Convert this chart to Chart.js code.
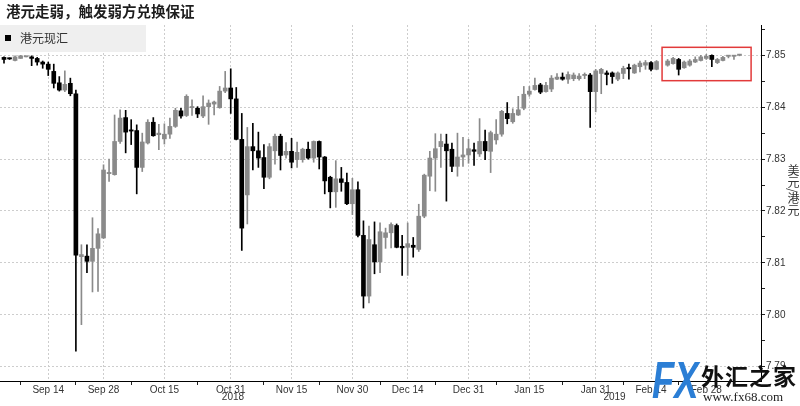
<!DOCTYPE html>
<html>
<head>
<meta charset="utf-8">
<script src="https://cdn.jsdelivr.net/npm/chart.js@4.4.0/dist/chart.umd.min.js"></script>
<style>
  html, body { margin: 0; padding: 0; background: #fff; }
  #wrap { position: relative; width: 800px; height: 406px; overflow: hidden; }
  #chart { position: absolute; left: 0; top: 0; }
  #title { position: absolute; left: 6px; top: 0; line-height: 20px; font: bold 14.5px "Noto Sans CJK SC", sans-serif; color: #1e1e1e; }
  #legend { position: absolute; left: 0; top: 25px; width: 146px; height: 27px; background: #efefef; font: 12px "Noto Sans CJK SC", sans-serif; color: #333; line-height: 27px; }
  #legend .sq { position: absolute; left: 5px; top: 10px; width: 6px; height: 6px; background: #000; }
  #legend .txt { position: absolute; left: 20px; top: -1px; }
  #ytitle { position: absolute; left: 785px; top: 164px; writing-mode: vertical-rl; font: 12px "Noto Sans CJK SC", sans-serif; color: #333; }
  #wm-fx { position: absolute; left: 652px; top: 352px; font: italic 900 52px "Liberation Sans", sans-serif; color: #2b7ed5; transform: scaleX(0.7); transform-origin: left top; line-height: 56px; }
  #wm-cn { position: absolute; left: 701px; top: 359px; font: bold 23px "Noto Sans CJK SC", sans-serif; color: #111; line-height: 32px; letter-spacing: 1px; }
  #wm-url { position: absolute; left: 703px; top: 389px; font: 13px "Liberation Serif", serif; color: #222; line-height: 16px; }
</style>
</head>
<body>
<div id="wrap">
  <canvas id="chart" width="800" height="406"></canvas>
  <div id="title">港元走弱，触发弱方兑换保证</div>
  <div id="legend"><span class="sq"></span><span class="txt">港元现汇</span></div>
  <div id="ytitle">美元/港元</div>
  <div id="wm-fx">FX</div>
  <div id="wm-cn">外汇之家</div>
  <div id="wm-url">www.fx68.com</div>
</div>
<script>
// daily USD/HKD candles, one slot per weekday from 2018-09-04 (slot 119 has no data)
const openVals = [7.8496,7.8494,7.8490,7.8494,7.8497,7.8497,7.8494,7.8487,7.8483,7.8469,
  7.8447,7.8433,7.8446,7.8426,7.8112,7.8113,7.8103,7.8128,7.8148,7.8272,
  7.8270,7.8334,7.8380,7.8355,7.8355,7.8284,7.8331,7.8371,7.8347,7.8339,
  7.8348,7.8363,7.8393,7.8384,7.8399,7.8398,7.8383,7.8401,7.8406,7.8399,
  7.8431,7.8437,7.8416,7.8338,7.8231,7.8324,7.8316,7.8303,7.8265,7.8316,
  7.8344,7.8308,7.8315,7.8299,7.8299,7.8319,7.8302,7.8334,7.8304,7.8265,
  7.8237,7.8262,7.8255,7.8214,7.8241,7.8153,7.8036,7.8135,7.8102,7.8149,
  7.8158,7.8172,7.8132,7.8130,7.8134,7.8126,7.8190,7.8267,7.8302,7.8324,
  7.8329,7.8319,7.8286,7.8304,7.8308,7.8318,7.8310,7.8334,7.8315,7.8337,
  7.8348,7.8388,7.8372,7.8385,7.8398,7.8425,7.8434,7.8443,7.8430,7.8435,
  7.8454,7.8458,7.8454,7.8455,7.8455,7.8461,7.8462,7.8430,7.8465,7.8466,
  7.8466,7.8454,7.8465,7.8476,7.8466,7.8478,7.8481,7.8486,7.8473,null,
  7.8481,7.8484,7.8492,7.8476,7.8481,7.8487,7.8490,7.8494,7.8500,7.8486,
  7.8490,7.8498,7.8498,7.8500];
const closeVals = [7.8492,7.8493,7.8497,7.8499,7.8498,7.8494,7.8487,7.8483,7.8473,7.8446,
  7.8433,7.8444,7.8426,7.8115,7.8116,7.8103,7.8128,7.8156,7.8279,7.8274,
  7.8334,7.8379,7.8352,7.8354,7.8284,7.8333,7.8371,7.8345,7.8350,7.8348,
  7.8363,7.8394,7.8383,7.8421,7.8400,7.8387,7.8401,7.8408,7.8410,7.8431,
  7.8437,7.8416,7.8338,7.8167,7.8324,7.8316,7.8302,7.8265,7.8324,7.8344,
  7.8307,7.8315,7.8294,7.8313,7.8319,7.8302,7.8334,7.8304,7.8258,7.8237,
  7.8262,7.8255,7.8214,7.8241,7.8153,7.8036,7.8145,7.8102,7.8160,7.8158,
  7.8174,7.8130,7.8129,7.8137,7.8130,7.8190,7.8269,7.8302,7.8320,7.8334,
  7.8316,7.8286,7.8304,7.8308,7.8320,7.8315,7.8334,7.8316,7.8351,7.8348,
  7.8392,7.8378,7.8388,7.8395,7.8425,7.8431,7.8442,7.8429,7.8442,7.8456,
  7.8458,7.8454,7.8463,7.8462,7.8460,7.8463,7.8430,7.8470,7.8473,7.8463,
  7.8459,7.8466,7.8475,7.8474,7.8481,7.8485,7.8486,7.8473,7.8488,null,
  7.8489,7.8494,7.8473,7.8487,7.8489,7.8492,7.8497,7.8498,7.8492,7.8492,
  7.8496,7.8499,7.8499,7.8501];
const highVals = [7.8497,7.8495,7.8499,7.8500,7.8498,7.8499,7.8496,7.8489,7.8487,7.8483,
  7.8459,7.8470,7.8456,7.8433,7.8135,7.8135,7.8187,7.8166,7.8289,7.8300,
  7.8385,7.8395,7.8394,7.8376,7.8366,7.8350,7.8376,7.8380,7.8367,7.8368,
  7.8379,7.8398,7.8398,7.8424,7.8414,7.8401,7.8422,7.8414,7.8412,7.8440,
  7.8469,7.8474,7.8438,7.8388,7.8361,7.8369,7.8352,7.8328,7.8330,7.8348,
  7.8348,7.8332,7.8340,7.8333,7.8321,7.8333,7.8335,7.8335,7.8305,7.8267,
  7.8297,7.8284,7.8273,7.8263,7.8256,7.8181,7.8171,7.8179,7.8177,7.8167,
  7.8177,7.8175,7.8153,7.8177,7.8149,7.8213,7.8271,7.8315,7.8349,7.8348,
  7.8348,7.8331,7.8350,7.8342,7.8338,7.8331,7.8378,7.8356,7.8354,7.8376,
  7.8394,7.8409,7.8397,7.8421,7.8440,7.8440,7.8456,7.8446,7.8448,7.8461,
  7.8465,7.8466,7.8468,7.8466,7.8465,7.8466,7.8465,7.8473,7.8475,7.8470,
  7.8468,7.8468,7.8479,7.8483,7.8483,7.8489,7.8490,7.8488,7.8490,null,
  7.8492,7.8496,7.8494,7.8489,7.8492,7.8497,7.8500,7.8502,7.8501,7.8494,
  7.8498,7.8499,7.8499,7.8502];
const lowVals = [7.8485,7.8492,7.8489,7.8494,7.8497,7.8480,7.8481,7.8475,7.8461,7.8437,
  7.8431,7.8430,7.8422,7.7930,7.7981,7.8081,7.8044,7.8045,7.8147,7.8257,
  7.8269,7.8330,7.8312,7.8328,7.8233,7.8276,7.8329,7.8344,7.8318,7.8329,
  7.8340,7.8361,7.8379,7.8382,7.8384,7.8380,7.8380,7.8367,7.8385,7.8398,
  7.8428,7.8388,7.8337,7.8124,7.8175,7.8279,7.8284,7.8243,7.8262,7.8290,
  7.8279,7.8302,7.8283,7.8284,7.8294,7.8300,7.8294,7.8281,7.8233,7.8206,
  7.8207,7.8238,7.8212,7.8193,7.8150,7.8013,7.8023,7.8079,7.8081,7.8128,
  7.8129,7.8129,7.8076,7.8076,7.8111,7.8122,7.8187,7.8239,7.8238,7.8284,
  7.8219,7.8276,7.8267,7.8286,7.8292,7.8288,7.8305,7.8299,7.8274,7.8329,
  7.8344,7.8368,7.8369,7.8384,7.8395,7.8421,7.8433,7.8426,7.8429,7.8430,
  7.8453,7.8452,7.8446,7.8451,7.8452,7.8455,7.8361,7.8391,7.8426,7.8443,
  7.8446,7.8451,7.8455,7.8454,7.8465,7.8468,7.8473,7.8470,7.8472,null,
  7.8479,7.8483,7.8462,7.8475,7.8479,7.8486,7.8489,7.8492,7.8478,7.8484,
  7.8489,7.8495,7.8492,7.8499];

// axis ticks (slot index on x)
const xTickSlots = [8, 18, 29, 41, 52, 63, 73, 84, 95, 107, 117, 127];
const xTickLabels = ['Sep 14', 'Sep 28', 'Oct 15', 'Oct 31', 'Nov 15', 'Nov 30', 'Dec 14', 'Dec 31', 'Jan 15', 'Jan 31', 'Feb 14', 'Feb 28'];
const xMinorSlots = [3, 13, 23, 35, 47, 57, 68, 78, 89, 101, 112, 122, 132];
const yearLabels = ['2018', '2019'];
const yearSlots = [41.4, 110.4];
const yMajorTicks = [7.79, 7.80, 7.81, 7.82, 7.83, 7.84, 7.85];
const yMinorTicks = [7.795, 7.805, 7.815, 7.825, 7.835, 7.845, 7.855];

const UP = '#8a8a8a', DOWN = '#000000', GRID = '#cdcdcd', TXT = '#333333';
const FONT = "'Liberation Sans Narrow', 'Arial Narrow', 'Liberation Sans', sans-serif";

const bodies = [], wicks = [], colors = [];
openVals.forEach((o, i) => {
  if (o === null) return;
  const c = closeVals[i];
  bodies.push({x: i, y: [o, c]});
  wicks.push({x: i, y: [lowVals[i], highVals[i]]});
  colors.push(c >= o ? UP : DOWN);
});

const xLabelMap = {};
xTickSlots.forEach((s, i) => { xLabelMap[s] = xTickLabels[i]; });
const yMajorSet = new Set(yMajorTicks);

const extras = {
  id: 'extras',
  afterDraw(chart) {
    const {ctx, scales: {x, y}} = chart;
    ctx.save();
    ctx.fillStyle = TXT;
    ctx.font = '10px ' + FONT;
    ctx.textAlign = 'center';
    ctx.textBaseline = 'top';
    yearLabels.forEach((t, i) => ctx.fillText(t, x.getPixelForValue(yearSlots[i]), 392));
    // highlight box round the latest days
    const x0 = x.getPixelForValue(119.0), x1 = x.getPixelForValue(135.1);
    const y0 = y.getPixelForValue(7.85154), y1 = y.getPixelForValue(7.84511);
    ctx.strokeStyle = '#e23a3a';
    ctx.lineWidth = 1.5;
    ctx.strokeRect(x0, y0, x1 - x0, y1 - y0);
    ctx.restore();
  }
};

new Chart(document.getElementById('chart').getContext('2d'), {
  type: 'bar',
  data: {
    datasets: [
      {data: bodies, backgroundColor: colors, barThickness: 4, minBarLength: 1.2, order: 0},
      {data: wicks, backgroundColor: colors, barThickness: 1, order: 1}
    ]
  },
  options: {
    responsive: false,
    animation: false,
    devicePixelRatio: 1,
    events: [],
    layout: {padding: {top: 25, left: 0, right: 0, bottom: 0}},
    datasets: {bar: {grouped: false, borderWidth: 0}},
    plugins: {legend: {display: false}, tooltip: {enabled: false}},
    scales: {
      x: {
        type: 'linear',
        offset: false,
        min: -0.723,
        max: 136.89,
        afterBuildTicks: s => { s.ticks = xTickSlots.concat(xMinorSlots).sort((a, b) => a - b).map(v => ({value: v})); },
        afterFit: s => { s.height = 25; },
        grid: {
          offset: false,
          color: c => (c.tick && xLabelMap[c.tick.value] ? GRID : 'rgba(0,0,0,0)'),
          tickColor: c => (c.tick && xLabelMap[c.tick.value] ? 'rgba(0,0,0,0)' : '#222'),
          tickLength: 4,
          lineWidth: 1
        },
        border: {display: true, color: '#000', width: 1, dash: [2, 2]},
        ticks: {
          autoSkip: false,
          maxRotation: 0,
          padding: -1,
          color: TXT,
          font: {family: FONT, size: 10},
          callback: v => xLabelMap[v] || ''
        }
      },
      y: {
        position: 'right',
        min: 7.78724,
        max: 7.85584,
        afterBuildTicks: s => { s.ticks = yMajorTicks.concat(yMinorTicks).sort((a, b) => a - b).map(v => ({value: v})); },
        afterFit: s => { s.width = 39; },
        grid: {
          color: c => (c.tick && yMajorSet.has(c.tick.value) ? GRID : 'rgba(0,0,0,0)'),
          tickColor: '#222',
          tickLength: 4,
          lineWidth: 1
        },
        border: {display: true, color: '#000', width: 1, dash: [2, 2]},
        ticks: {
          padding: 1,
          color: TXT,
          font: {family: FONT, size: 10},
          callback: v => (yMajorSet.has(v) ? v.toFixed(2) : '')
        }
      }
    }
  },
  plugins: [extras]
});
</script>
</body>
</html>
